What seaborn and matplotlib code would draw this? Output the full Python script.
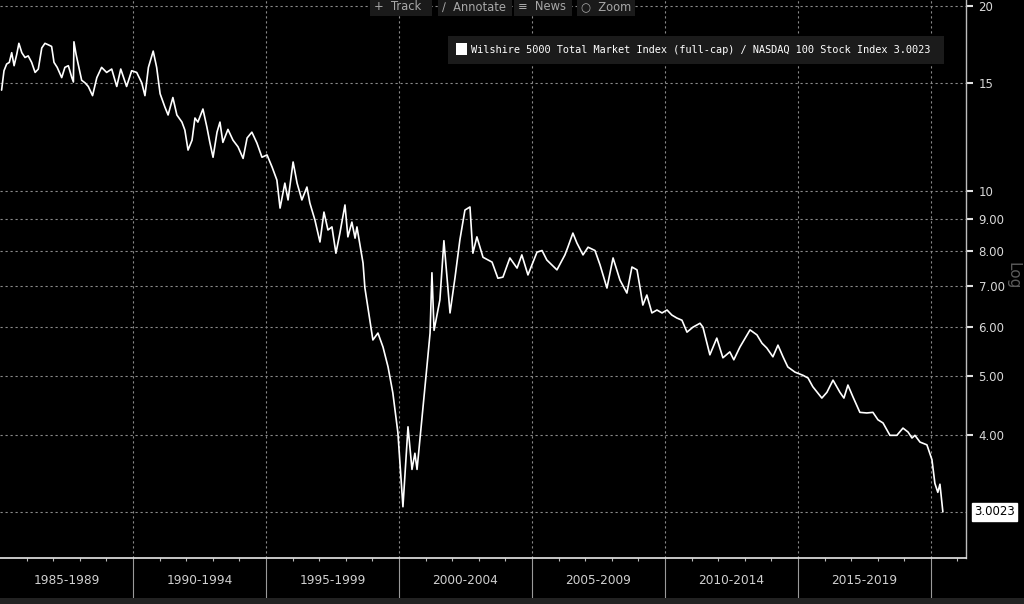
import numpy as np
import pandas as pd
import matplotlib
matplotlib.use("Agg")
import matplotlib.pyplot as plt
import seaborn as sns
from matplotlib.patches import Rectangle
from matplotlib.ticker import FixedLocator, FixedFormatter, NullLocator
import matplotlib.transforms as mtrans

# ratio Wilshire 5000 / NASDAQ 100 (decimal year, value)
years = [1985.06, 1985.15, 1985.25, 1985.35, 1985.44, 1985.53, 1985.63, 1985.71, 1985.82, 1985.94,
         1986.06, 1986.19, 1986.32, 1986.44, 1986.57, 1986.69, 1986.82, 1986.94, 1987.03, 1987.15,
         1987.32, 1987.44, 1987.57, 1987.70, 1987.76, 1987.78, 1987.86, 1987.94, 1988.07, 1988.20,
         1988.32, 1988.48, 1988.64, 1988.82, 1989.01, 1989.20, 1989.39, 1989.54, 1989.76, 1989.95,
         1990.14, 1990.33, 1990.45, 1990.58, 1990.76, 1990.89, 1991.02, 1991.20, 1991.32, 1991.50,
         1991.65, 1991.84, 1991.95, 1992.07, 1992.22, 1992.33, 1992.44, 1992.63, 1992.78, 1992.89,
         1993.01, 1993.16, 1993.27, 1993.38, 1993.57, 1993.76, 1993.95, 1994.14, 1994.29, 1994.47,
         1994.66, 1994.85, 1995.04, 1995.23, 1995.41, 1995.53, 1995.71, 1995.83, 1996.02, 1996.17,
         1996.35, 1996.54, 1996.65, 1996.84, 1997.03, 1997.18, 1997.33, 1997.48, 1997.63, 1997.78,
         1997.97, 1998.08, 1998.23, 1998.35, 1998.42, 1998.65, 1998.72,
         1999.02, 1999.21, 1999.40, 1999.59, 1999.77, 1999.96, 2000.15, 2000.34, 2000.49, 2000.60,
         2000.68, 2000.86, 2001.05, 2001.17, 2001.24, 2001.32, 2001.54, 2001.69, 2001.92, 2002.11,
         2002.29, 2002.48, 2002.67, 2002.78, 2002.93, 2003.16, 2003.50, 2003.72, 2003.91, 2004.17,
         2004.44, 2004.62, 2004.85, 2005.19, 2005.38, 2005.56, 2005.94, 2006.24, 2006.35, 2006.54,
         2006.69, 2006.92, 2007.11, 2007.37, 2007.56, 2007.82, 2008.05, 2008.31, 2008.57, 2008.76,
         2008.95, 2009.06, 2009.17, 2009.32, 2009.51, 2009.70, 2009.89, 2010.08, 2010.26, 2010.45,
         2010.64, 2010.83, 2011.05, 2011.32, 2011.43, 2011.69, 2011.95, 2012.18, 2012.44, 2012.59,
         2012.82, 2013.20, 2013.46, 2013.65, 2013.83, 2014.06, 2014.25, 2014.44, 2014.62, 2014.89,
         2015.19, 2015.38, 2015.56, 2015.90, 2016.09, 2016.32, 2016.58, 2016.73, 2016.88, 2017.07,
         2017.33, 2017.59, 2017.82, 2018.01, 2018.20, 2018.46, 2018.72, 2018.95, 2019.14, 2019.29,
         2019.40, 2019.59, 2019.85, 2020.04, 2020.15, 2020.26, 2020.34, 2020.45]
ratio = [14.6, 15.7, 16.1, 16.2, 16.8, 16.0, 16.7, 17.4, 16.8, 16.5,
         16.6, 16.2, 15.6, 15.8, 17.1, 17.4, 17.3, 17.2, 16.2, 15.9,
         15.3, 15.9, 16.0, 15.3, 15.05, 17.5, 16.7, 16.1, 15.15, 15.0,
         14.8, 14.3, 15.3, 15.9, 15.6, 15.8, 14.8, 15.8, 14.8, 15.7,
         15.6, 15.0, 14.3, 15.9, 16.9, 15.9, 14.4, 13.7, 13.3, 14.2,
         13.3, 12.95, 12.57, 11.66, 12.1, 13.15, 12.95, 13.6, 12.7, 12.0,
         11.35, 12.47, 12.95, 12.0, 12.6, 12.1, 11.8, 11.3, 12.2, 12.47,
         11.97, 11.35, 11.45, 10.94, 10.42, 9.38, 10.3, 9.67, 11.15, 10.3,
         9.67, 10.15, 9.56, 8.97, 8.26, 9.24, 8.64, 8.74, 7.92, 8.54,
         9.49, 8.42, 8.9, 8.38, 8.74, 7.63, 6.95,
         5.72, 5.87, 5.57, 5.17, 4.69, 4.04, 3.06, 4.13, 3.52, 3.74,
         3.52, 4.24, 5.17, 5.87, 7.36, 5.93, 6.65, 8.3, 6.33, 7.24,
         8.32, 9.31, 9.42, 7.92, 8.42, 7.8, 7.66, 7.21, 7.24, 7.78,
         7.49, 7.87, 7.3, 7.95, 8.0, 7.72, 7.44, 7.87, 8.1, 8.54,
         8.23, 7.87, 8.1, 8.0, 7.58, 6.95, 7.78, 7.16, 6.82, 7.52,
         7.44, 6.98, 6.52, 6.77, 6.33, 6.40, 6.33, 6.40, 6.28, 6.21,
         6.16, 5.89, 6.0, 6.09, 6.0, 5.41, 5.76, 5.35, 5.47, 5.31,
         5.57, 5.94, 5.83, 5.65, 5.55, 5.37, 5.61, 5.37, 5.17, 5.07,
         5.01, 4.96, 4.80, 4.60, 4.70, 4.92, 4.70, 4.60, 4.83, 4.62,
         4.36, 4.35, 4.36, 4.24, 4.19, 4.00, 4.00, 4.11, 4.05, 3.96,
         4.00, 3.90, 3.86, 3.65, 3.34, 3.23, 3.33, 3.0023]

last_value = 3.0023
series_name = "Wilshire 5000 Total Market Index (full-cap) / NASDAQ 100 Stock Index"
y_ticks = [4, 5, 6, 7, 8, 9, 10, 15, 20]
y_tick_labels = ["4.00", "5.00", "6.00", "7.00", "8.00", "9.00", "10", "15", "20"]
period_starts = [1985, 1990, 1995, 2000, 2005, 2010, 2015]
period_labels = ["1985-1989", "1990-1994", "1995-1999", "2000-2004",
                 "2005-2009", "2010-2014", "2015-2019"]
toolbar = ["+  Track", "\u2215  Annotate", "\u2261  News", "\u25cb  Zoom"]

df = pd.DataFrame({"year": years, "ratio": ratio})

sns.set_theme(style="dark", rc={"axes.facecolor": "black", "figure.facecolor": "black"})
plt.rcParams["font.family"] = ["DejaVu Sans"]

fig = plt.figure(figsize=(10.24, 6.04), dpi=100)
ax = fig.add_axes([0, 46 / 604, 966 / 1024, 558 / 604])
ax.set_facecolor("black")

sns.lineplot(data=df, x="year", y="ratio", ax=ax, color="white", lw=1.2)

ax.set_yscale("log")
ax.set_ylim(2.525, 20.47)
ax.set_xlim(1985.0, 2021.32)
ax.set_xlabel("")
ax.set_ylabel("")

grid_kw = dict(color="#8a8a8a", lw=0.8, ls=(0, (2, 2.5)), zorder=0)
for v in y_ticks + [last_value]:
    ax.axhline(v, **grid_kw)
for yr in period_starts[1:] + [2020]:
    ax.axvline(yr, **grid_kw)

# right-hand log axis
ax.yaxis.tick_right()
ax.yaxis.set_major_locator(FixedLocator(y_ticks))
ax.yaxis.set_major_formatter(FixedFormatter(y_tick_labels))
ax.yaxis.set_minor_locator(NullLocator())
ax.tick_params(axis="y", which="major", right=True, left=False, length=5, width=1.5,
               color="#e0e0e0", labelcolor="#d8d8d8", labelsize=8.5, pad=4)

# bottom axis: long separators between periods, short yearly ticks
ax.xaxis.set_major_locator(FixedLocator(period_starts[1:] + [2020]))
ax.xaxis.set_major_formatter(FixedFormatter([""] * 7))
ax.xaxis.set_minor_locator(FixedLocator([y for y in range(1986, 2022) if y % 5]))
ax.tick_params(axis="x", which="major", bottom=True, length=29, width=0.8, color="#9a9a9a")
ax.tick_params(axis="x", which="minor", bottom=True, length=2.5, width=0.8, color="#bbbbbb")
trans = mtrans.blended_transform_factory(ax.transData, ax.transAxes)
for start, lab in zip(period_starts, period_labels):
    ax.text(start + 2.5, -0.04, lab, transform=trans, ha="center", va="center",
            color="#d0d0d0", fontsize=8.7)

for side in ["top", "left"]:
    ax.spines[side].set_visible(False)
ax.spines["bottom"].set_color("#e8e8e8")
ax.spines["bottom"].set_linewidth(1.2)
ax.spines["right"].set_color("#bdbdbd")
ax.spines["right"].set_linewidth(1.0)

# last value tag
ax.annotate(f"{last_value:.4f}", xy=(1.0, last_value), xycoords=("axes fraction", "data"),
            xytext=(6, 0), textcoords="offset points", ha="left", va="center",
            fontsize=8.5, color="black",
            bbox=dict(boxstyle="square,pad=0.2", fc="white", ec="white"))

# legend strip
fig.patches.append(Rectangle((448 / 1024, 1 - 64 / 604), 496 / 1024, 28 / 604,
                             transform=fig.transFigure, fc="#1b1b1b", ec="none"))
fig.patches.append(Rectangle((456 / 1024, 1 - 55 / 604), 11 / 1024, 12 / 604,
                             transform=fig.transFigure, fc="white", ec="none"))
fig.text(471 / 1024, 1 - 50 / 604, f"{series_name} {last_value:.4f}",
         family="DejaVu Sans Mono", fontsize=7.4, color="white", va="center", ha="left")

# "Log" marker on the right
fig.text(1013 / 1024, 1 - 276 / 604, "Log", rotation=270, color="#5a5a5a",
         fontsize=11, ha="center", va="center")

# toolbar on top
tb_x = [370, 438, 514, 577]
tb_w = [62, 74, 58, 58]
for x0, w, lab in zip(tb_x, tb_w, toolbar):
    fig.patches.append(Rectangle((x0 / 1024, 1 - 16 / 604), w / 1024, 16 / 604,
                                 transform=fig.transFigure, fc="#1a1a1a", ec="none"))
    fig.text((x0 + 4) / 1024, 1 - 7 / 604, lab, color="#a8a8a8", fontsize=8.3,
             ha="left", va="center")

# dark strip at the very bottom
fig.patches.append(Rectangle((0, 0), 1, 6 / 604, transform=fig.transFigure,
                             fc="#222222", ec="none"))

fig.savefig("out.png", dpi=100, facecolor="black")
